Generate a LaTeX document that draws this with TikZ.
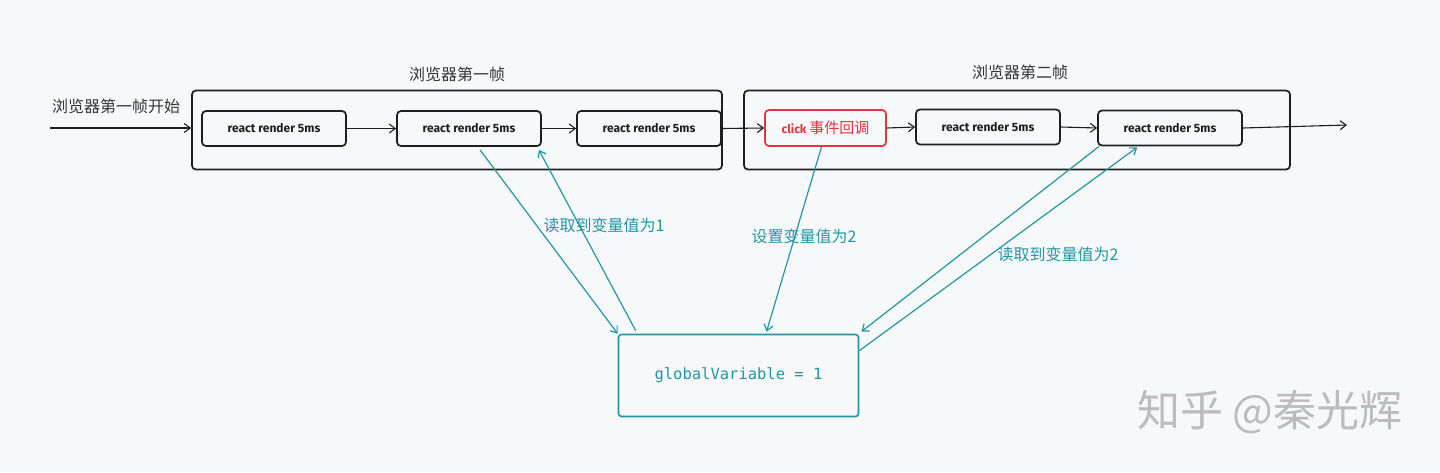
\documentclass[tikz,border=0pt]{standalone}
\usepackage{fontspec}
\setmainfont{Fira Sans}
\newfontfamily\cjk{Noto Sans CJK SC}
\newfontfamily\codefont{DejaVu Sans Mono}
\usetikzlibrary{arrows.meta,calc}
\definecolor{bgc}{HTML}{F7F8FA}
\definecolor{tealc}{RGB}{34,150,162}
\definecolor{redc}{RGB}{228,52,64}
\definecolor{inkc}{RGB}{30,30,30}
\definecolor{wmc}{RGB}{188,188,190}
\begin{document}
\begin{tikzpicture}[x=1pt,y=-1pt,
  frame/.style={draw=inkc,line width=1.7pt,rounded corners=4pt,inner sep=0pt},
  rbox/.style={draw=inkc,line width=1.7pt,rounded corners=4pt,minimum width=144pt,minimum height=35pt,inner sep=0pt,font=\fontsize{12}{14}\selectfont\bfseries,text=inkc},
  cbox/.style={draw=redc,line width=1.7pt,rounded corners=4pt,minimum width=121pt,minimum height=36pt,inner sep=0pt,text=redc},
  gbox/.style={draw=tealc,line width=1.6pt,rounded corners=3pt,minimum width=240pt,minimum height=82pt,inner sep=0pt,text=tealc,font=\codefont\fontsize{15.5}{18}\selectfont},
  title/.style={font=\cjk\fontsize{16}{19}\selectfont,text=inkc!90},
  tlabel/.style={font=\cjk\fontsize{16}{19}\selectfont,text=tealc},
  flow/.style={draw=inkc,line width=1.1pt,-{Straight Barb[length=6pt,width=9pt]}},
  tflow/.style={draw=tealc,line width=1.2pt,-{Straight Barb[length=6pt,width=9pt]}}
]
\fill[bgc] (0,0) rectangle (1440,472);
\useasboundingbox (0,0) rectangle (1440,472);

% frames
\node[frame,minimum width=530pt,minimum height=79pt] (f1) at (457,130) {};
\node[frame,minimum width=546pt,minimum height=79pt] (f2) at (1017,130) {};
\node[title] (t1) at (457,74) {浏览器第一帧};
\node[title] (t2) at (1020,72) {浏览器第二帧};
\node[title] (t0) at (116,106) {浏览器第一帧开始};

% boxes
\node[rbox] (b1) at (274,128.5) {react render 5ms};
\node[rbox] (b2) at (469,128.5) {react render 5ms};
\node[rbox] (b3) at (649,128.5) {react render 5ms};
\node[cbox] (cl) at (825.5,128) {\fontsize{12}{14}\selectfont\bfseries click \cjk\fontsize{15}{17}\selectfont\mdseries 事件回调};
\node[rbox] (b5) at (988,127) {react render 5ms};
\node[rbox] (b6) at (1170,128) {react render 5ms};

\node[gbox] (g) at (738.5,375.5) {globalVariable = 1};

% black flow
\coordinate (s) at (50,128);
\coordinate (e) at (1347,125);
\draw[flow] (s) -- (s -| f1.west);
\draw[flow] (b1.east) -- (b2.west);
\draw[flow] (b2.east) -- (b3.west);
\draw[flow] (b3.east) -- (cl.west);
\draw[flow] (cl.east) -- (b5.west);
\draw[flow] (b5.east) -- (b6.west);
\draw[flow] (b6.east) -- (e);

% teal arrows
\draw[tflow] ($(b2.south)+(11,3)$) -- (g.north west);
\draw[tflow] ($(g.north west)+(18,-3)$) -- ($(b2.south east)+(-3,3)$);
\draw[tflow] ($(cl.south)+(-4,0)$) -- ($(g.north)+(28,-2)$);
\draw[tflow] ($(b6.south west)+(2,0)$) -- ($(g.north east)+(2,-2)$);
\draw[tflow] ($(g.north east)+(0,17)$) -- ($(b6.south west)+(40,1)$);

% teal labels
\node[tlabel] (l1) at (604,225) {读取到变量值为1};
\node[tlabel] (l2) at (804,236) {设置变量值为2};
\node[tlabel] (l3) at (1058,254) {读取到变量值为2};

% watermark
\node[font=\cjk\fontsize{43}{47}\selectfont,text=wmc] (wm) at (1270,412) {知乎 @秦光辉};
\end{tikzpicture}
\end{document}
